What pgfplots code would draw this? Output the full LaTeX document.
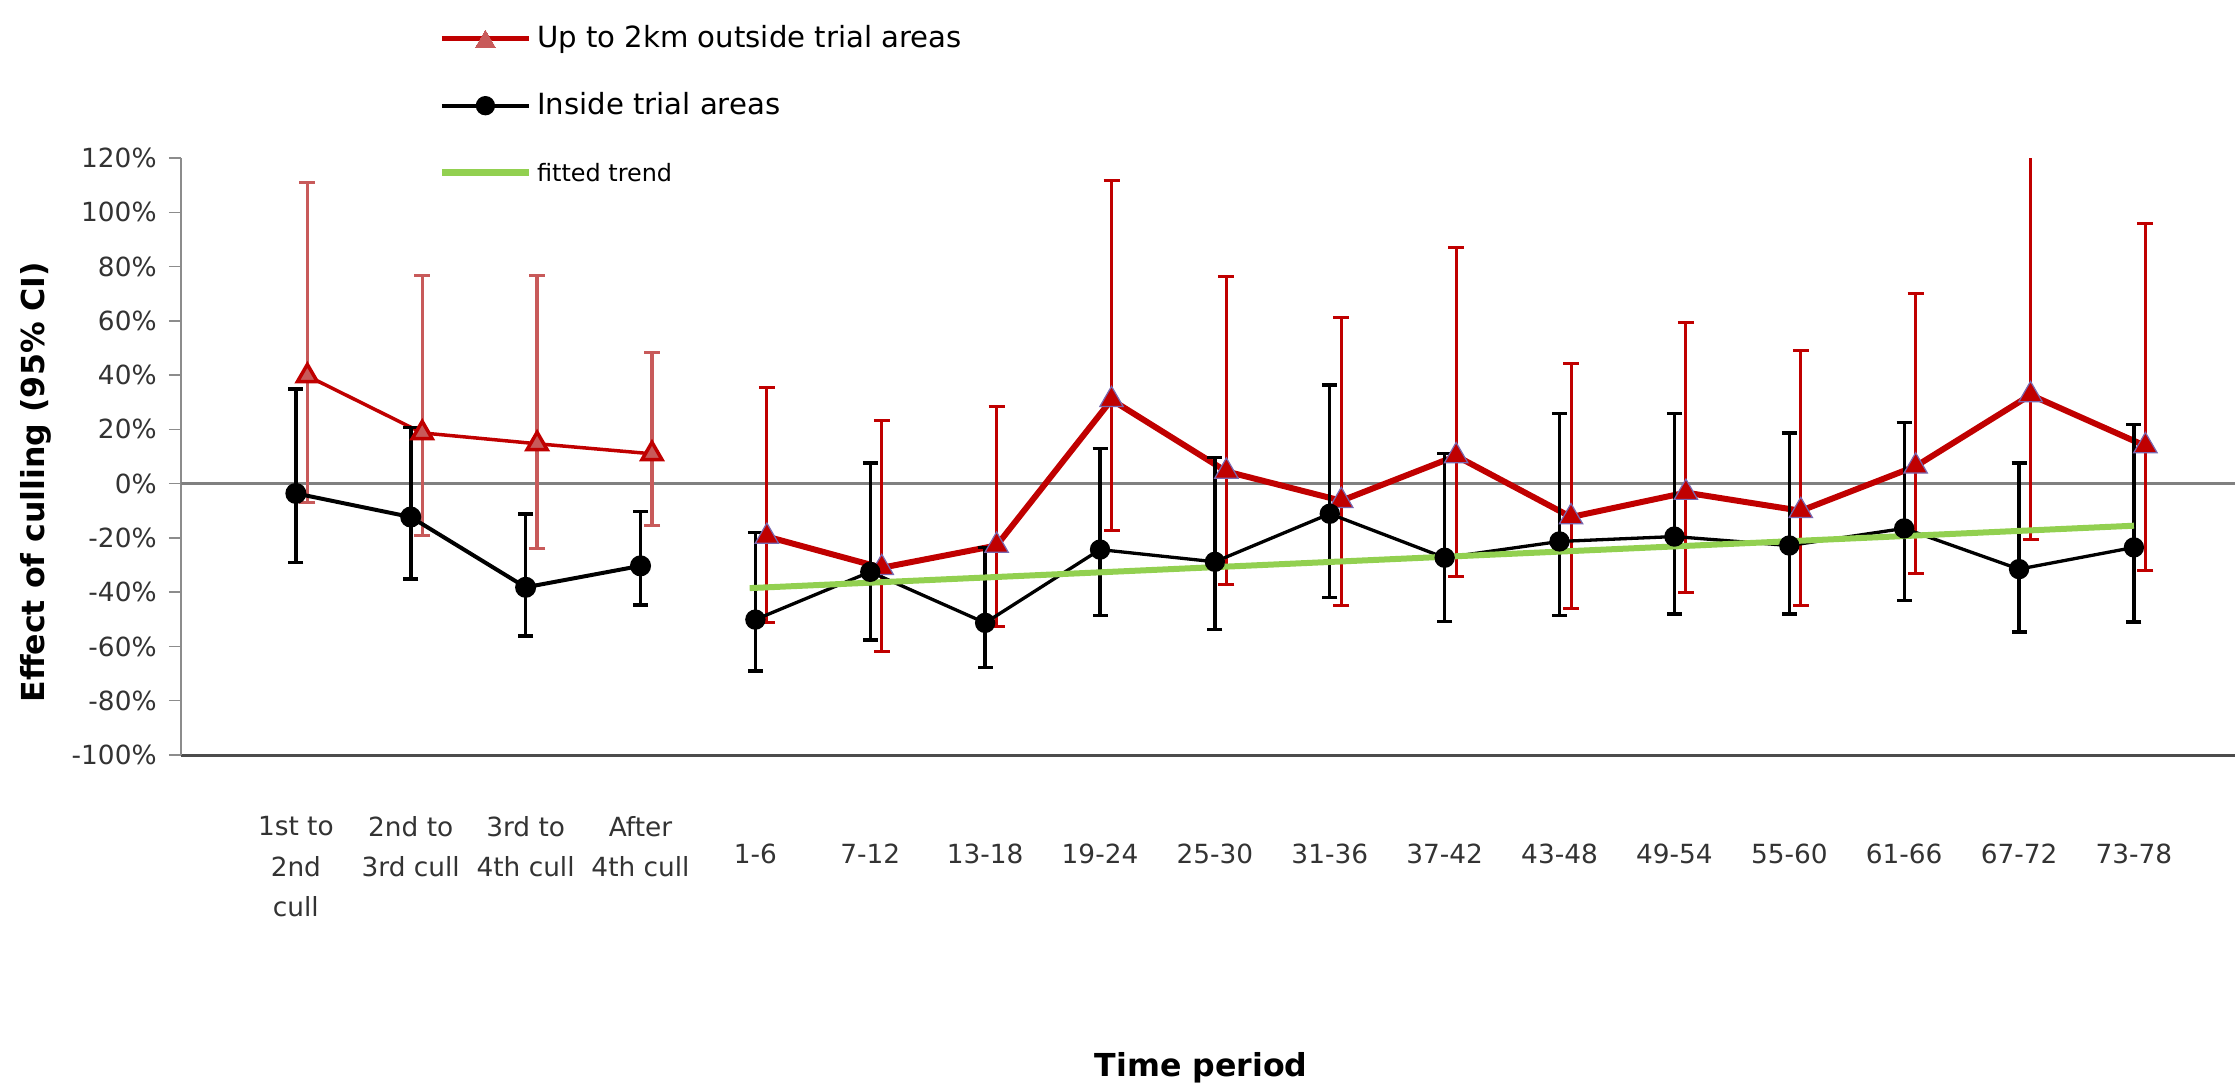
\documentclass[border=0pt]{standalone}
\usepackage{pgfplots}
\usepackage{pgfplotstable}
\pgfplotsset{compat=1.18}
\usepackage{fontspec}
\setmainfont{DejaVu Sans}
\definecolor{cRed}{HTML}{C00000}
\definecolor{cRedL}{HTML}{C85A5A}
\definecolor{cGreen}{HTML}{92D050}
\definecolor{cPurple}{HTML}{7868B0}
\definecolor{cZero}{HTML}{808080}
\newcommand{\tl}[1]{\rule{0pt}{4.7mm}#1}

\pgfplotstableread{
x y ep em
1 -3.6 38.5 25.5
2 -12.3 33.0 22.9
3 -38.2 27.1 18.0
4 -30.3 20.0 14.5
}\blackA

\pgfplotstableread{
x y ep em
1.1 39.7 71.4 46.7
2.1 18.7 57.9 37.7
3.1 14.7 61.9 38.7
4.1 11.0 37.4 26.3
}\redA

\pgfplotstableread{
x y ep em
5 -50.1 32.1 18.9
6 -32.5 40.1 25.1
7 -51.3 27.8 16.5
8 -24.3 37.2 24.4
9 -28.8 38.5 25.0
10 -11.1 47.5 30.9
11 -27.3 38.5 23.5
12 -21.3 47.2 27.4
13 -19.5 45.4 28.5
14 -22.8 41.5 25.2
15 -16.5 39.0 26.5
16 -31.5 39.1 23.2
17 -23.5 45.4 27.5
}\blackB

\pgfplotstableread{
x y ep em
5.1 -19.5 54.9 31.8
6.1 -31.0 54.4 30.8
7.1 -22.8 51.3 30.0
8.1 30.9 80.9 48.1
9.1 4.5 71.7 41.5
10.1 -6.3 67.5 38.7
11.1 10.2 76.9 44.5
12.1 -12.3 56.5 33.7
13.1 -3.3 62.7 36.7
14.1 -10.0 59.2 35.0
15.1 6.4 63.8 39.4
16.1 32.7 92.3 53.2
17.1 13.9 82.1 46.0
}\redB

\begin{document}
\begin{tikzpicture}
\useasboundingbox (-18.1mm,-33.0mm) rectangle (205.4mm,75.5mm);
\begin{axis}[
  at={(0,0)}, anchor=south west,
  width=205.4mm, height=59.7mm, scale only axis,
  xmin=0, xmax=17.88, ymin=-100, ymax=120,
  axis x line=bottom, axis y line=left, axis line style={-},
  x axis line style={draw=black!70, line width=0.3mm},
  y axis line style={draw=black!45, line width=0.15mm},
  xtick={1,...,17},
  xticklabels={{1st to\\2nd\\cull},{2nd to\\3rd cull},{3rd to\\4th cull},{After\\4th cull},
    \tl{1-6},\tl{7-12},\tl{13-18},\tl{19-24},\tl{25-30},\tl{31-36},\tl{37-42},\tl{43-48},
    \tl{49-54},\tl{55-60},\tl{61-66},\tl{67-72},\tl{73-78}},
  xtick style={draw=none},
  ytick={-100,-80,...,120},
  yticklabels={-100\%,-80\%,-60\%,-40\%,-20\%,0\%,20\%,40\%,60\%,80\%,100\%,120\%},
  tick align=outside, major tick length=1.2mm,
  ytick style={draw=black!45, line width=0.15mm},
  yticklabel style={font=\fontsize{7.5}{9}\selectfont, text=black!80},
  xticklabel style={font=\fontsize{7.5}{11.4}\selectfont, anchor=north, align=center, inner sep=0pt, yshift=-4.9mm, text=black!80},
  xlabel={Time period},
  xlabel style={font=\bfseries\fontsize{9}{11}\selectfont, at={(axis description cs:0.4966,-0.539)}, anchor=base},
  ylabel={Effect of culling (95\% CI)},
  ylabel style={font=\bfseries\fontsize{9}{11}\selectfont, at={(axis description cs:-0.0706,0.457)}, anchor=center},
  legend style={at={(axis description cs:0.1251,1.227)}, anchor=north west, draw=none, fill=none,
    inner sep=0pt, row sep=3.6mm, column sep=0.5mm, font=\fontsize{8.3}{10}\selectfont,
    nodes={inner sep=0pt, text height=2.4mm, text depth=0.7mm}},
  legend cell align=left,
]
\addplot[cZero, line width=0.3mm, forget plot] coordinates {(0,0) (17.88,0)};

\addplot[cRed, line width=0.35mm, mark=triangle*, mark size=1.15mm,
  mark options={fill=cRedL, draw=none, solid}, forget plot,
  error bars/.cd, y dir=both, y explicit,
  error bar style={cRedL, line width=0.33mm},
  error mark options={cRedL, line width=0.33mm, mark size=0.8mm, rotate=90}]
  table[x=x, y=y, y error plus=ep, y error minus=em]{\redA};

\addplot[cRed, line width=0.6mm, mark=triangle*, mark size=1.35mm,
  mark options={fill=cRed, draw=cPurple, line width=0.12mm, solid},
  legend image code/.code={
    \draw[cRed, line width=0.55mm] (0mm,0mm) -- (8.7mm,0mm);
    \fill[cRedL] plot[mark=triangle*, mark size=1.15mm, mark options={fill=cRedL, draw=cRedL, line width=0pt}] coordinates {(4.35mm,-0.3mm)};
  },
  error bars/.cd, y dir=both, y explicit,
  error bar style={cRed, line width=0.3mm},
  error mark options={cRed, line width=0.3mm, mark size=0.8mm, rotate=90}]
  table[x=x, y=y, y error plus=ep, y error minus=em]{\redB};
\addlegendentry{Up to 2km outside trial areas}

\addplot[black, line width=0.4mm, mark=*, mark size=0.85mm,
  mark options={fill=black, draw=black, solid}, forget plot,
  error bars/.cd, y dir=both, y explicit,
  error bar style={black, line width=0.36mm},
  error mark options={black, line width=0.36mm, mark size=0.75mm, rotate=90}]
  table[x=x, y=y, y error plus=ep, y error minus=em]{\blackA};

\addplot[black, line width=0.33mm, mark=*, mark size=0.85mm,
  mark options={fill=black, draw=black, solid},
  legend image code/.code={
    \draw[black, line width=0.4mm] (0mm,0mm) -- (8.7mm,0mm);
    \draw plot[mark=*, mark size=0.8mm, mark options={fill=black, draw=black}] coordinates {(4.35mm,0mm)};
  },
  error bars/.cd, y dir=both, y explicit,
  error bar style={black, line width=0.33mm},
  error mark options={black, line width=0.33mm, mark size=0.75mm, rotate=90}]
  table[x=x, y=y, y error plus=ep, y error minus=em]{\blackB};
\addlegendentry{Inside trial areas}

\addplot[cGreen, line width=0.6mm,
  legend image code/.code={\draw[cGreen, line width=0.65mm] (0mm,0mm) -- (8.7mm,0mm);}]
  coordinates {(4.95,-38.5) (17,-15.5)};
\addlegendentry{\fontsize{6.8}{8}\selectfont fitted trend}
\end{axis}
\end{tikzpicture}
\end{document}
